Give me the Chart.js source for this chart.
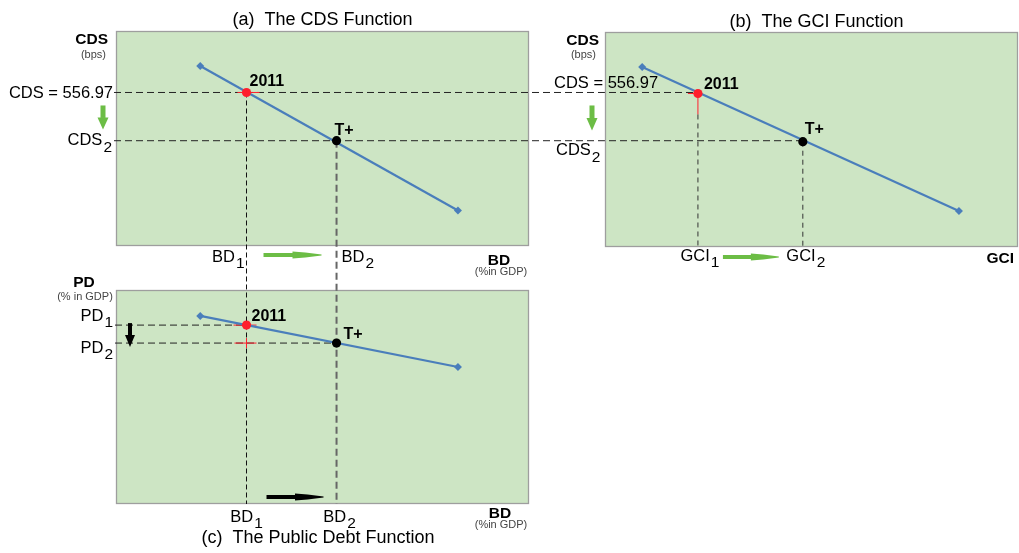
<!DOCTYPE html>
<html><head><meta charset="utf-8">
<script src="https://cdn.jsdelivr.net/npm/chart.js@4/dist/chart.umd.min.js"></script>
<style>
html,body{margin:0;padding:0;background:#fff;width:1019px;height:553px;overflow:hidden}
canvas{position:absolute;left:0;top:0;pointer-events:none}
#cA{z-index:1}#cB{z-index:2}#cC{z-index:3}
</style></head><body>
<canvas id="cA" width="1019" height="553"></canvas>
<canvas id="cB" width="1019" height="553"></canvas>
<canvas id="cC" width="1019" height="553"></canvas>
<script>
// ---------------- data ----------------
const panelTitles = ['(a)  The CDS Function', '(b)  The GCI Function', '(c)  The Public Debt Function'];
const pointLabels = ['2011', 'T+'];
// Panel (a): CDS (bps) as a function of BD (% in GDP)
const cdsLineBD  = [20.4, 82.8];
const cdsLineCDS = [653, 129];
const bdPoints   = [31.6, 53.4];      // BD1, BD2
const cdsPoints  = [556.97, 382];     // CDS 2011, CDS2
// Panel (b): CDS (bps) as a function of GCI
const gciLineGCI = [9.0, 85.7];
const gciLineCDS = [653, 131];
const gciPoints  = [22.5, 47.9];      // GCI1, GCI2
// Panel (c): PD (% in GDP) as a function of BD
const pdLineBD = [20.4, 82.8];
const pdLinePD = [87.9, 64.0];
const pdPoints = [83.6, 75.2];        // PD1, PD2
// axis label texts [main, subscript]
const bdTicks  = [['BD', '1'], ['BD', '2']];
const gciTicks = [['GCI', '1'], ['GCI', '2']];
const cdsTicks = [['CDS = 556.97', ''], ['CDS', '2']];
const pdTicks  = [['PD', '1'], ['PD', '2']];
// axis ranges
const bdRange = [0, 100], gciRange = [0, 100], cdsRange = [0, 780], pdRange = [0, 100];

// ---------------- styles ----------------
const W = 1019, H = 553;
const FONT = '"Liberation Sans", Arial, sans-serif';
const GREEN_BG = '#cde5c4', BORDER = '#9e9e9e', BLUE = '#4a7ebb', RED = '#ff1f2d', ARROW_GREEN = '#6cbd45';
const H_DASH = {color: '#222', width: 1, dash: [7, 4]};
const V1_DASH = {color: '#111', width: 1, dash: [5, 3]};
const V2_DASH = {color: '#666', width: 2, dash: [7, 4]};
const G_DASH = {color: '#333', width: 1, dash: [5, 4]};
const LBL = 16.5, TITLE = 18, BOLD_LBL = 15.5, SMALL = 11, PT_LBL = 16;

function txt(ctx, s, x, y, size, o = {}) {
  ctx.save();
  ctx.font = (o.bold ? 'bold ' : '') + size + 'px ' + FONT;
  ctx.fillStyle = o.color || '#000';
  ctx.textAlign = o.align || 'left';
  ctx.textBaseline = 'middle';
  ctx.fillText(s, x, y);
  ctx.restore();
}
function subTxt(ctx, pair, x, y, size, anchor) {
  ctx.save();
  ctx.font = size + 'px ' + FONT;
  const w1 = ctx.measureText(pair[0]).width;
  ctx.font = (size - 1) + 'px ' + FONT;
  const w2 = pair[1] ? ctx.measureText(pair[1]).width + 1 : 0;
  const tw = w1 + w2;
  const x0 = anchor === 'right' ? x - tw : anchor === 'center' ? x - tw / 2 : x;
  ctx.fillStyle = '#000'; ctx.textAlign = 'left'; ctx.textBaseline = 'middle';
  ctx.font = size + 'px ' + FONT;
  ctx.fillText(pair[0], x0, y);
  if (pair[1]) { ctx.font = (size - 1) + 'px ' + FONT; ctx.fillText(pair[1], x0 + w1 + 1, y + 7); }
  ctx.restore();
}
function seg(ctx, x1, y1, x2, y2, st, offset = 0) {
  ctx.save();
  ctx.strokeStyle = st.color; ctx.lineWidth = st.width;
  ctx.setLineDash(st.dash || []); ctx.lineDashOffset = offset;
  ctx.beginPath(); ctx.moveTo(x1, y1); ctx.lineTo(x2, y2); ctx.stroke();
  ctx.restore();
}
function redLine(ctx, x1, y1, x2, y2) { seg(ctx, x1, y1, x2, y2, {color: RED, width: 1}); }
function hArrow(ctx, x0, x1, y, color) {
  const L = x1 - x0;
  ctx.save(); ctx.fillStyle = color;
  ctx.fillRect(x0, y - 2, L * 0.55, 4);
  ctx.beginPath();
  ctx.moveTo(x0 + L * 0.5, y - 3.5); ctx.lineTo(x0 + L * 0.72, y - 2.5); ctx.lineTo(x1, y - 0.6);
  ctx.lineTo(x1, y + 0.6); ctx.lineTo(x0 + L * 0.72, y + 2.5); ctx.lineTo(x0 + L * 0.5, y + 3.5);
  ctx.closePath(); ctx.fill();
  ctx.restore();
}
function vArrow(ctx, x, y0, y1, color, sw, hw) {
  const L = y1 - y0;
  ctx.save(); ctx.fillStyle = color;
  ctx.fillRect(x - sw / 2, y0, sw, L * 0.52);
  ctx.beginPath(); ctx.moveTo(x - hw / 2, y0 + L * 0.5); ctx.lineTo(x + hw / 2, y0 + L * 0.5); ctx.lineTo(x, y1);
  ctx.closePath(); ctx.fill();
  ctx.restore();
}

const charts = {};
const bgPlugin = {
  id: 'panelBg',
  beforeDraw(chart) {
    const {ctx, chartArea: a} = chart;
    ctx.save();
    ctx.fillStyle = GREEN_BG;
    ctx.fillRect(a.left, a.top, a.right - a.left, a.bottom - a.top);
    ctx.strokeStyle = BORDER; ctx.lineWidth = 1.3;
    ctx.strokeRect(a.left + 0.5, a.top + 0.5, a.right - a.left - 1, a.bottom - a.top - 1);
    ctx.restore();
  }
};

function cfg(box, xr, yr, lineX, lineY, ptX, ptY, ann) {
  return {
    type: 'scatter',
    data: { datasets: [
      { data: ptX.map((x, i) => ({x, y: ptY[i]})), showLine: false, pointRadius: 4.6,
        pointBackgroundColor: [RED, '#000'], pointBorderColor: [RED, '#000'], pointBorderWidth: 0 },
      { data: lineX.map((x, i) => ({x, y: lineY[i]})), showLine: true, borderColor: BLUE, borderWidth: 2.2,
        pointStyle: 'rectRot', pointRadius: 4, pointBackgroundColor: BLUE, pointBorderColor: BLUE, pointBorderWidth: 0 }
    ]},
    options: {
      responsive: false, animation: false, events: [],
      layout: { autoPadding: false, padding: { left: box.l, top: box.t, right: W - box.r, bottom: H - box.b } },
      scales: {
        x: { type: 'linear', display: false, min: xr[0], max: xr[1] },
        y: { type: 'linear', display: false, min: yr[0], max: yr[1] }
      },
      plugins: { legend: {display: false}, tooltip: {enabled: false}, title: {display: false} }
    },
    plugins: [bgPlugin, ann]
  };
}

// ---------- panel (a) ----------
const annA = {
  id: 'annA',
  beforeDatasetsDraw(chart) {
    const ctx = chart.ctx, xs = chart.scales.x, ys = chart.scales.y, a = chart.chartArea;
    const B = charts.B, C = charts.C;
    const y1 = ys.getPixelForValue(cdsPoints[0]), y2 = ys.getPixelForValue(cdsPoints[1]);
    const x1 = xs.getPixelForValue(bdPoints[0]), x2 = xs.getPixelForValue(bdPoints[1]);
    const hs = a.left - 2;
    const he1 = B ? B.scales.x.getPixelForValue(gciPoints[0]) : a.right;
    const he2 = B ? B.scales.x.getPixelForValue(gciPoints[1]) : a.right;
    const vEnd = C ? C.chartArea.bottom : a.bottom;
    seg(ctx, hs, y1, he1, y1, H_DASH);
    seg(ctx, hs, y2, he2, y2, H_DASH);
    seg(ctx, x1, y1, x1, vEnd, V1_DASH);
    seg(ctx, x2, y2, x2, vEnd, V2_DASH);
    redLine(ctx, x1 - 9, y1, x1 + 13, y1);
  },
  afterDraw(chart) {
    const ctx = chart.ctx, xs = chart.scales.x, ys = chart.scales.y, a = chart.chartArea;
    const y1 = ys.getPixelForValue(cdsPoints[0]), y2 = ys.getPixelForValue(cdsPoints[1]);
    const x1 = xs.getPixelForValue(bdPoints[0]), x2 = xs.getPixelForValue(bdPoints[1]);
    txt(ctx, panelTitles[0], (a.left + a.right) / 2, a.top - 11, TITLE, {align: 'center'});
    txt(ctx, 'CDS', a.left - 8, a.top + 9, BOLD_LBL, {bold: true, align: 'right'});
    txt(ctx, '(bps)', a.left - 10, a.top + 24, SMALL, {align: 'right', color: '#444'});
    subTxt(ctx, cdsTicks[0], a.left - 3, y1 + 0.5, LBL, 'right');
    subTxt(ctx, cdsTicks[1], a.left - 4, y2, LBL, 'right');
    vArrow(ctx, a.left - 13, y1 + 13, y1 + 37, ARROW_GREEN, 5, 11);
    subTxt(ctx, bdTicks[0], x1 - 2, a.bottom + 11, LBL, 'right');
    subTxt(ctx, bdTicks[1], x2 + 5, a.bottom + 11, LBL, 'left');
    hArrow(ctx, x1 + 17, x2 - 15, a.bottom + 9, ARROW_GREEN);
    txt(ctx, 'BD', 499, a.bottom + 15, BOLD_LBL, {bold: true, align: 'center'});
    txt(ctx, '(%in GDP)', 501, a.bottom + 26, SMALL, {align: 'center', color: '#444'});
    txt(ctx, pointLabels[0], x1 + 3, y1 - 11, PT_LBL, {bold: true});
    txt(ctx, pointLabels[1], x2 - 2, y2 - 10, PT_LBL, {bold: true});
  }
};

// ---------- panel (b) ----------
const annB = {
  id: 'annB',
  beforeDatasetsDraw(chart) {
    const ctx = chart.ctx, xs = chart.scales.x, ys = chart.scales.y, a = chart.chartArea;
    const A = charts.A;
    const g1 = xs.getPixelForValue(gciPoints[0]), g2 = xs.getPixelForValue(gciPoints[1]);
    const yl1 = A ? A.scales.y.getPixelForValue(cdsPoints[0]) : ys.getPixelForValue(cdsPoints[0]);
    const yl2 = A ? A.scales.y.getPixelForValue(cdsPoints[1]) : ys.getPixelForValue(cdsPoints[1]);
    const hs = A ? A.chartArea.left - 2 : a.left;
    seg(ctx, a.left, yl1, g1, yl1, H_DASH, a.left - hs);
    seg(ctx, a.left, yl2, g2, yl2, H_DASH, a.left - hs);
    const yr = ys.getPixelForValue(cdsPoints[0]), yb = ys.getPixelForValue(cdsPoints[1]);
    redLine(ctx, g1, yr, g1, yr + 21);
    redLine(ctx, g1 - 10, yr, g1, yr);
    seg(ctx, g1, yr + 21, g1, a.bottom, G_DASH);
    seg(ctx, g2, yb, g2, a.bottom, G_DASH);
  },
  afterDraw(chart) {
    const ctx = chart.ctx, xs = chart.scales.x, ys = chart.scales.y, a = chart.chartArea;
    const g1 = xs.getPixelForValue(gciPoints[0]), g2 = xs.getPixelForValue(gciPoints[1]);
    const yr = ys.getPixelForValue(cdsPoints[0]), yb = ys.getPixelForValue(cdsPoints[1]);
    txt(ctx, panelTitles[1], (a.left + a.right) / 2 + 5, a.top - 10, TITLE, {align: 'center'});
    txt(ctx, 'CDS', a.left - 6, a.top + 9, BOLD_LBL, {bold: true, align: 'right'});
    txt(ctx, '(bps)', a.left - 9, a.top + 23, SMALL, {align: 'right', color: '#444'});
    subTxt(ctx, cdsTicks[0], a.left - 51, yr - 10, LBL, 'left');
    subTxt(ctx, cdsTicks[1], a.left - 49, yb + 9, LBL, 'left');
    vArrow(ctx, a.left - 13, yr + 12, yr + 37, ARROW_GREEN, 5, 11);
    subTxt(ctx, gciTicks[0], g1 + 2, a.bottom + 9, LBL, 'center');
    subTxt(ctx, gciTicks[1], g2 + 3, a.bottom + 9, LBL, 'center');
    hArrow(ctx, g1 + 25, g2 - 24, a.bottom + 10, ARROW_GREEN);
    txt(ctx, 'GCI', a.right - 4, a.bottom + 12, BOLD_LBL, {bold: true, align: 'right'});
    txt(ctx, pointLabels[0], g1 + 6, yr - 9, PT_LBL, {bold: true});
    txt(ctx, pointLabels[1], g2 + 2, yb - 12, PT_LBL, {bold: true});
  }
};

// ---------- panel (c) ----------
const annC = {
  id: 'annC',
  beforeDatasetsDraw(chart) {
    const ctx = chart.ctx, xs = chart.scales.x, ys = chart.scales.y, a = chart.chartArea;
    const A = charts.A;
    const x1 = A ? A.scales.x.getPixelForValue(bdPoints[0]) : xs.getPixelForValue(bdPoints[0]);
    const x2 = A ? A.scales.x.getPixelForValue(bdPoints[1]) : xs.getPixelForValue(bdPoints[1]);
    const ya1 = A ? A.scales.y.getPixelForValue(cdsPoints[0]) : a.top;
    const ya2 = A ? A.scales.y.getPixelForValue(cdsPoints[1]) : a.top;
    seg(ctx, x1, a.top, x1, a.bottom, V1_DASH, a.top - ya1);
    seg(ctx, x2, a.top, x2, a.bottom, V2_DASH, a.top - ya2);
    const p1 = ys.getPixelForValue(pdPoints[0]), p2 = ys.getPixelForValue(pdPoints[1]);
    const cx1 = xs.getPixelForValue(bdPoints[0]), cx2 = xs.getPixelForValue(bdPoints[1]);
    seg(ctx, a.left - 1, p1, cx1, p1, H_DASH);
    seg(ctx, a.left - 1, p2, cx2, p2, H_DASH);
    redLine(ctx, cx1 - 13, p1, cx1 + 10, p1);
    redLine(ctx, cx1 - 12, p2, cx1 + 10, p2);
    redLine(ctx, cx1, p2 - 5, cx1, p2 + 5);
  },
  afterDraw(chart) {
    const ctx = chart.ctx, xs = chart.scales.x, ys = chart.scales.y, a = chart.chartArea;
    const x1 = xs.getPixelForValue(bdPoints[0]), x2 = xs.getPixelForValue(bdPoints[1]);
    const p1 = ys.getPixelForValue(pdPoints[0]), p2 = ys.getPixelForValue(pdPoints[1]);
    txt(ctx, 'PD', a.left - 32, a.top - 7, BOLD_LBL, {bold: true, align: 'center'});
    txt(ctx, '(% in GDP)', a.left - 31, a.top + 7, SMALL, {align: 'center', color: '#444'});
    subTxt(ctx, pdTicks[0], a.left - 3, p1 - 9, LBL, 'right');
    subTxt(ctx, pdTicks[1], a.left - 3, p2 + 5, LBL, 'right');
    vArrow(ctx, a.left + 14, p1 - 2, p2 + 4, '#000', 4, 10);
    subTxt(ctx, bdTicks[0], x1, a.bottom + 13, LBL, 'center');
    subTxt(ctx, bdTicks[1], x2 + 3, a.bottom + 13, LBL, 'center');
    hArrow(ctx, x1 + 20, x2 - 13, a.bottom - 7, '#000');
    txt(ctx, 'BD', 500, a.bottom + 10, BOLD_LBL, {bold: true, align: 'center'});
    txt(ctx, '(%in GDP)', 501, a.bottom + 21, SMALL, {align: 'center', color: '#444'});
    txt(ctx, panelTitles[2], 318, a.bottom + 34, TITLE, {align: 'center'});
    txt(ctx, pointLabels[0], x1 + 5, p1 - 9, PT_LBL, {bold: true});
    txt(ctx, pointLabels[1], x2 + 7, p2 - 8, PT_LBL, {bold: true});
  }
};

charts.A = new Chart(document.getElementById('cA'),
  cfg({l: 116, t: 31, r: 529, b: 246}, bdRange, cdsRange, cdsLineBD, cdsLineCDS, bdPoints, cdsPoints, annA));
charts.B = new Chart(document.getElementById('cB'),
  cfg({l: 605, t: 32, r: 1018, b: 247}, gciRange, cdsRange, gciLineGCI, gciLineCDS, gciPoints, cdsPoints, annB));
charts.C = new Chart(document.getElementById('cC'),
  cfg({l: 116, t: 290, r: 529, b: 504}, bdRange, pdRange, pdLineBD, pdLinePD, bdPoints, pdPoints, annC));
charts.A.update('none'); charts.B.update('none'); charts.C.update('none');
</script>
</body></html>
